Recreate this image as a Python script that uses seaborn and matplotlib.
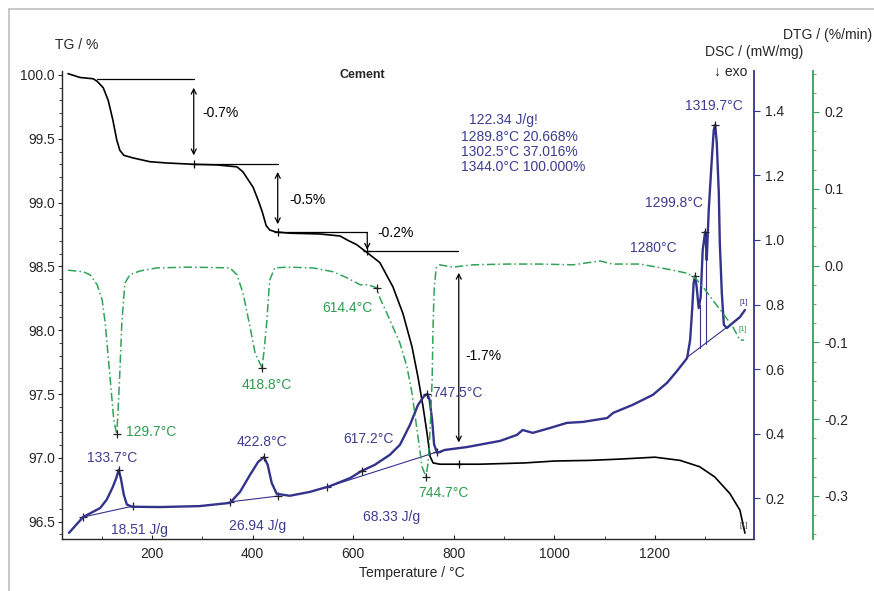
import numpy as np
import pandas as pd
import matplotlib
matplotlib.use('Agg')
import matplotlib.pyplot as plt
import seaborn as sns
from matplotlib.lines import Line2D
from matplotlib.ticker import MultipleLocator, FormatStrFormatter

# TG curve (mass %)
tg_temp = [33, 57, 83, 91, 103, 113, 122, 130, 136, 144,
           162, 196, 230, 282, 329, 369, 381, 401, 411, 419,
           427, 434, 446, 474, 534, 574, 588, 607, 627, 653,
           679, 699, 717, 729, 739, 747, 753, 759, 772, 852,
           941, 1001, 1071, 1130, 1200, 1250, 1289, 1319, 1349, 1369,
           1379]
tg_mass = [100.01, 99.98, 99.97, 99.95, 99.90, 99.80, 99.65, 99.49, 99.41, 99.37,
           99.35, 99.32, 99.31, 99.30, 99.295, 99.28, 99.24, 99.12, 99.02, 98.93,
           98.82, 98.785, 98.77, 98.76, 98.754, 98.738, 98.707, 98.67, 98.61, 98.53,
           98.34, 98.13, 97.87, 97.63, 97.40, 97.19, 97.01, 96.96, 96.95, 96.95,
           96.96, 96.975, 96.98, 96.99, 97.005, 96.98, 96.93, 96.85, 96.72, 96.59,
           96.41]

# DSC curve (mW/mg)
dsc_temp = [35, 63, 97, 110, 122, 129, 133.7, 138, 144, 150,
            160, 216, 295, 355, 375, 395, 411, 422.8, 430, 438,
            448, 474, 514, 554, 594, 617, 643, 673, 693, 713,
            729, 741, 747.5, 752, 757, 761, 767, 782, 826, 892,
            926, 937, 957, 991, 1025, 1057, 1105, 1117, 1156, 1196,
            1224, 1244, 1264, 1270, 1274, 1277, 1280, 1283, 1287, 1291,
            1295, 1299.8, 1301, 1303, 1307, 1313, 1317, 1319.7, 1323, 1327,
            1329, 1333, 1337, 1343, 1355, 1369, 1379]
dsc_val = [0.092, 0.141, 0.169, 0.195, 0.234, 0.262, 0.287, 0.262, 0.210, 0.180,
           0.173, 0.172, 0.175, 0.185, 0.219, 0.272, 0.312, 0.327, 0.303, 0.247,
           0.213, 0.207, 0.219, 0.237, 0.262, 0.284, 0.303, 0.334, 0.365, 0.427,
           0.489, 0.516, 0.523, 0.504, 0.442, 0.365, 0.340, 0.349, 0.358, 0.377,
           0.396, 0.411, 0.402, 0.417, 0.433, 0.436, 0.448, 0.464, 0.489, 0.520,
           0.557, 0.594, 0.634, 0.690, 0.783, 0.867, 0.888, 0.854, 0.789, 0.823,
           0.969, 1.025, 1.009, 0.938, 1.093, 1.248, 1.341, 1.357, 1.301, 1.146,
           0.991, 0.836, 0.737, 0.727, 0.743, 0.761, 0.783]

# DTG curve (%/min)
dtg_temp = [33, 63, 77, 91, 101, 107, 113, 120, 124, 129.7,
            132, 136, 140, 146, 156, 176, 210, 276, 355, 369,
            381, 395, 405, 418.8, 423, 428, 434, 444, 468, 520,
            560, 588, 614, 630, 647, 653, 667, 679, 693, 707,
            717, 727, 737, 744.7, 749, 753, 757, 759, 761, 765,
            772, 798, 838, 906, 971, 1037, 1091, 1116, 1170, 1204,
            1236, 1264, 1280, 1296, 1315, 1335, 1355, 1369, 1377]
dtg_val = [-0.006, -0.008, -0.012, -0.025, -0.045, -0.075, -0.119, -0.171, -0.201, -0.219,
           -0.197, -0.140, -0.075, -0.023, -0.012, -0.007, -0.003, -0.002, -0.003, -0.012,
           -0.036, -0.080, -0.114, -0.133, -0.110, -0.075, -0.019, -0.003, -0.002, -0.003,
           -0.008, -0.016, -0.025, -0.025, -0.029, -0.042, -0.062, -0.080, -0.101, -0.132,
           -0.166, -0.214, -0.262, -0.275, -0.257, -0.214, -0.149, -0.075, -0.032, -0.003,
           0.001, -0.002, 0.001, 0.002, 0.002, 0.001, 0.006, 0.002, 0.002, -0.002,
           -0.006, -0.010, -0.016, -0.028, -0.045, -0.062, -0.080, -0.097, -0.097]

# TG step evaluation: level lines, arrows, labels
step_t0 = [90, 283, 450, 628]
step_t1 = [283, 450, 628, 808]
step_level = [99.97, 99.30, 98.77, 98.62]
tg_mark_temp = [283, 450, 628, 810]
tg_mark_val = [99.30, 98.77, 98.62, 96.95]
arrow_temp = [283, 450, 628, 810]
arrow_top = [99.90, 99.24, 98.76, 98.45]
arrow_bot = [99.37, 98.83, 98.63, 97.12]
step_labels = ['-0.7%', '-0.5%', '-0.2%', '-1.7%']
step_label_temp = [300, 474, 649, 824]
step_label_val = [99.70, 99.02, 98.76, 97.80]

# DSC peaks and integration baselines
dsc_peak_temp = [133.7, 422.8, 617.2, 747.5, 1280, 1299.8, 1319.7]
dsc_peak_val = [0.287, 0.327, 0.284, 0.523, 0.888, 1.025, 1.357]
base_t0 = [63, 355, 548, 1262]
base_v0 = [0.141, 0.188, 0.234, 0.634]
base_t1 = [162, 450, 767, 1369]
base_v1 = [0.175, 0.206, 0.343, 0.760]
part_temp = [1289.8, 1302.5]
part_top = [0.80, 1.00]
part_bot = [0.664, 0.678]
peak_labels = ['133.7°C', '422.8°C', '617.2°C', '747.5°C', '1280°C', '1299.8°C', '1319.7°C']
peak_label_temp = [120, 418, 630, 758, 1196, 1295, 1317]
peak_label_val = [0.324, 0.374, 0.383, 0.526, 0.975, 1.115, 1.415]
area_labels = ['18.51 J/g', '26.94 J/g', '68.33 J/g']
area_label_temp = [176, 409, 677]
area_label_val = [0.101, 0.113, 0.141]
area_block = ['122.34 J/g!', '1289.8°C 20.668%', '1302.5°C 37.016%', '1344.0°C 100.000%']
area_block_temp = [830, 814, 814, 814]
area_block_val = [1.372, 1.319, 1.273, 1.226]

# DTG peaks
dtg_peak_temp = [129.7, 418.8, 647, 744.7]
dtg_peak_val = [-0.219, -0.133, -0.029, -0.275]
dtg_labels = ['129.7°C', '418.8°C', '614.4°C', '744.7°C']
dtg_label_temp = [148, 429, 588, 779]
dtg_label_val = [-0.217, -0.155, -0.055, -0.296]

navy = '#33338c'
navy_txt = '#3d3d90'
green = '#2fa358'
green_txt = '#2d9c4c'

sns.set_style('ticks')
plt.rcParams['font.family'] = ['Liberation Sans', 'DejaVu Sans']
plt.rcParams['axes.unicode_minus'] = False

fig = plt.figure(figsize=(8.74, 5.91), dpi=100)
ax = fig.add_axes([0.0709, 0.0880, 0.7918, 0.7919])
ax2 = ax.twinx()
ax3 = ax.twinx()

# curves
sns.lineplot(x=tg_temp, y=tg_mass, ax=ax, color='black', linewidth=1.2,
             sort=False, estimator=None, zorder=3)
sns.lineplot(x=dsc_temp, y=dsc_val, ax=ax2, color=navy, linewidth=1.7,
             sort=False, estimator=None, zorder=3)
sns.lineplot(x=dtg_temp, y=dtg_val, ax=ax3, color=green, linewidth=1.1,
             linestyle=(0, (5.5, 2.0, 1.0, 2.0)), sort=False, estimator=None, zorder=3)

# TG step construction
for t0, t1, lv in zip(step_t0, step_t1, step_level):
    ax.plot([t0, t1], [lv, lv], color='black', lw=0.9)
ax.plot(tg_mark_temp, tg_mark_val, '+', color='black', ms=6, mew=0.9)
for t, top, bot in zip(arrow_temp, arrow_top, arrow_bot):
    style = '->' if top - bot < 0.2 else '<->'
    ax.annotate('', xy=(t, bot), xytext=(t, top),
                arrowprops=dict(arrowstyle=style, color='black', lw=0.9,
                                shrinkA=0, shrinkB=0, mutation_scale=9))
for lab, t, v in zip(step_labels, step_label_temp, step_label_val):
    ax.text(t, v, lab, ha='left', va='center', fontsize=10, color='black')

# DSC baselines and markers
for t0, v0, t1, v1 in zip(base_t0, base_v0, base_t1, base_v1):
    ax2.plot([t0, t1], [v0, v1], color=navy, lw=0.8)
for t, top, bot in zip(part_temp, part_top, part_bot):
    ax2.plot([t, t], [top, bot], color=navy, lw=0.8)
ax2.plot(base_t0[:3] + base_t1[:3], base_v0[:3] + base_v1[:3], '+',
         color='#222222', ms=6, mew=0.9)
ax2.plot(dsc_peak_temp, dsc_peak_val, '+', color='#222222', ms=6, mew=0.9, zorder=4)
for lab, t, v in zip(peak_labels, peak_label_temp, peak_label_val):
    ha = 'left' if lab == '747.5°C' else ('right' if lab == '1299.8°C' else 'center')
    ax2.text(t, v, lab, ha=ha, va='center', fontsize=10, color=navy_txt)
for lab, t, v in zip(area_labels, area_label_temp, area_label_val):
    ax2.text(t, v, lab, ha='center', va='center', fontsize=10, color=navy_txt)
for lab, t, v in zip(area_block, area_block_temp, area_block_val):
    ax2.text(t, v, lab, ha='left', va='center', fontsize=10, color=navy_txt)

# DTG markers
ax3.plot(dtg_peak_temp, dtg_peak_val, '+', color='#222222', ms=6, mew=0.9, zorder=4)
for lab, t, v in zip(dtg_labels, dtg_label_temp, dtg_label_val):
    ha = 'left' if lab == '129.7°C' else 'center'
    ax3.text(t, v, lab, ha=ha, va='center', fontsize=10, color=green_txt)

# end-of-curve tags
ax.text(tg_temp[-1] - 3, tg_mass[-1] + 0.05, '[1]', fontsize=5.5, color='#444444', ha='center')
ax2.text(dsc_temp[-1] - 3, dsc_val[-1] + 0.02, '[1]', fontsize=5.5, color=navy, ha='center')
ax3.text(dtg_temp[-1] - 3, dtg_val[-1] + 0.012, '[1]', fontsize=5.5, color=green, ha='center')

# limits
ax.set_xlim(21, 1397)
ax.set_ylim(96.364, 100.031)
ax2.set_ylim(0.073, 1.524)
ax3.set_ylim(-0.356, 0.2534)

# spines
for a in (ax, ax2, ax3):
    a.spines['top'].set_visible(False)
ax.spines['right'].set_visible(False)
for a in (ax2, ax3):
    a.spines['left'].set_visible(False)
    a.spines['bottom'].set_visible(False)
ax2.spines['right'].set_color(navy)
ax2.spines['right'].set_linewidth(1.3)
ax3.spines['right'].set_position(('axes', 1.0853))
ax3.spines['right'].set_color(green)
ax3.spines['right'].set_linewidth(1.3)
ax.spines['left'].set_linewidth(1.0)
ax.spines['bottom'].set_linewidth(1.0)

# ticks
ax.xaxis.set_minor_locator(MultipleLocator(100))
ax.set_xticks([200, 400, 600, 800, 1000, 1200])
ax.yaxis.set_major_locator(MultipleLocator(0.5))
ax.yaxis.set_minor_locator(MultipleLocator(0.1))
ax.yaxis.set_major_formatter(FormatStrFormatter('%.1f'))
ax.tick_params(axis='x', which='major', direction='in', length=3, labelsize=10, pad=6)
ax.tick_params(axis='x', which='minor', direction='in', length=2)
ax.tick_params(axis='y', which='major', direction='out', length=3, labelsize=10, pad=2)
ax.tick_params(axis='y', which='minor', direction='out', length=2)

ax2.set_yticks([0.2, 0.4, 0.6, 0.8, 1.0, 1.2, 1.4])
ax2.yaxis.set_major_formatter(FormatStrFormatter('%.1f'))
ax2.tick_params(axis='y', direction='out', length=4, color=navy, labelsize=10, pad=4)

ax3.set_yticks([-0.3, -0.2, -0.1, 0.0, 0.1, 0.2])
ax3.yaxis.set_minor_locator(MultipleLocator(0.025))
ax3.yaxis.set_major_formatter(FormatStrFormatter('%.1f'))
ax3.tick_params(axis='y', which='major', direction='out', length=4, color=green, labelsize=10, pad=4)
ax3.tick_params(axis='y', which='minor', direction='out', length=2, color=green)

for a in (ax, ax2, ax3):
    a.set_xlabel('')
    a.set_ylabel('')

# axis titles as figure text
fig.text(0.063, 0.924, 'TG / %', ha='left', va='center', fontsize=10)
fig.text(0.998, 0.940, 'DTG / (%/min)', ha='right', va='center', fontsize=10)
fig.text(0.863, 0.912, 'DSC / (mW/mg)', ha='center', va='center', fontsize=10)
fig.text(0.855, 0.878, '↓ exo', ha='right', va='center', fontsize=10)
fig.text(0.471, 0.031, 'Temperature / °C', ha='center', va='center', fontsize=10)
fig.text(0.414, 0.873, 'Cement', ha='center', va='center', fontsize=9, fontweight='bold')

# gray frame
fig.add_artist(Line2D([9 / 874, 9 / 874], [0, 1 - 9 / 591], color='#c4c4c4', lw=1.3))
fig.add_artist(Line2D([9 / 874, 1], [1 - 9 / 591, 1 - 9 / 591], color='#c4c4c4', lw=1.3))

fig.savefig('out.png', dpi=100)
